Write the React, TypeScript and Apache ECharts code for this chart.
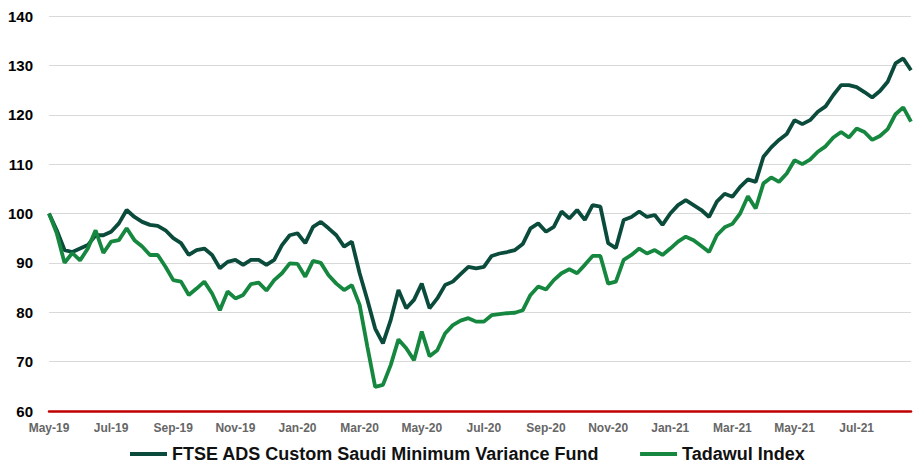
import React, { useEffect, useRef } from "react";
import * as echarts from "echarts";

// Quarter-month steps starting May 2019 (index / 4 = months since May-19)
const fundValues = [
  100, 96.6, 92.6, 92.2, 92.9, 93.6, 95.6, 95.6, 96.3, 98.0,
  100.7, 99.3, 98.3, 97.7, 97.5, 96.6, 95.0, 94.0, 91.6, 92.6,
  92.9, 91.6, 88.9, 90.2, 90.6, 89.6, 90.6, 90.6, 89.6, 90.6,
  93.6, 95.6, 96.0, 94.0, 97.3, 98.3, 97.0, 95.6, 93.3, 94.3,
  87.9, 82.5, 76.7, 73.7, 78.4, 84.5, 80.8, 82.5, 85.8, 80.8,
  82.8, 85.5, 86.2, 87.7, 89.2, 88.9, 89.2, 91.4, 91.9, 92.2,
  92.6, 93.8, 97.0, 98.0, 96.3, 97.3, 100.4, 99.0, 100.7, 98.7,
  101.7, 101.4, 94.0, 93.0, 98.7, 99.3, 100.4, 99.3, 99.7, 97.7,
  100, 101.7, 102.7, 101.7, 100.7, 99.3, 102.4, 104.0, 103.4, 105.4,
  106.9, 106.4, 111.5, 113.4, 114.9, 116.1, 118.9, 118.1, 118.9, 120.6,
  121.7, 124.0, 126.0, 126.0, 125.6, 124.6, 123.5, 124.8, 126.7, 130.4,
  131.4, 129.0,
];

const tadawulValues = [
  100, 96.0, 90.0, 92.0, 90.5, 92.9, 96.6, 92.0, 94.3, 94.6,
  97.0, 94.6, 93.3, 91.6, 91.6, 89.2, 86.5, 86.2, 83.5, 84.8,
  86.2, 83.8, 80.4, 84.2, 82.8, 83.5, 85.7, 86.0, 84.4, 86.5,
  87.9, 89.9, 89.8, 87.2, 90.4, 90.0, 87.5, 85.8, 84.5, 85.5,
  81.5, 73.0, 64.9, 65.3, 69.3, 74.5, 72.7, 70.3, 76.1, 71.1,
  72.3, 75.7, 77.4, 78.3, 78.8, 78.1, 78.1, 79.4, 79.6, 79.8,
  79.9, 80.4, 83.5, 85.2, 84.6, 86.5, 87.9, 88.7, 87.9, 89.6,
  91.4, 91.4, 85.8, 86.2, 90.6, 91.6, 92.9, 91.9, 92.6, 91.6,
  92.9, 94.3, 95.3, 94.6, 93.4, 92.2, 95.6, 97.2, 97.9, 100,
  103.5, 101.0, 106.1, 107.3, 106.4, 108.1, 110.8, 110.0, 110.9, 112.5,
  113.6, 115.4, 116.5, 115.4, 117.2, 116.5, 114.9, 115.7, 117.1, 120.1,
  121.5, 118.6,
];

const xTickLabels = [
  "May-19", "Jul-19", "Sep-19", "Nov-19", "Jan-20", "Mar-20", "May-20",
  "Jul-20", "Sep-20", "Nov-20", "Jan-21", "Mar-21", "May-21", "Jul-21",
];

const seriesNames = ["FTSE ADS Custom Saudi Minimum Variance Fund", "Tadawul Index"];

const STEPS_PER_MONTH = 4;

export default function App() {
  const ref = useRef<HTMLDivElement>(null);

  useEffect(() => {
    if (!ref.current) return;
    const chart = echarts.init(ref.current, null, { renderer: "svg" });
    const toPoints = (arr: number[]) => arr.map((v, i) => [i / STEPS_PER_MONTH, v]);
    chart.setOption({
      animation: false,
      backgroundColor: "#ffffff",
      grid: { left: 49, right: 0, top: 16, bottom: 56, containLabel: false },
      legend: {
        data: seriesNames,
        left: 125,
        top: 440,
        icon: "rect",
        itemWidth: 37,
        itemHeight: 4,
        itemGap: 41,
        textStyle: {
          fontFamily: "Liberation Sans, Arial, sans-serif",
          fontWeight: "bold",
          fontSize: 18,
          color: "#111111",
        },
      },
      xAxis: {
        type: "value",
        min: 0,
        max: 27.75,
        interval: 2,
        axisLine: { show: true, lineStyle: { color: "#C00000", width: 2.5 } },
        axisTick: { show: false },
        splitLine: { show: false },
        axisLabel: {
          margin: 11,
          fontFamily: "Liberation Sans, Arial, sans-serif",
          fontWeight: "bold",
          fontSize: 12,
          color: "#666666",
          formatter: (v: number) => {
            const idx = v / 2;
            return Number.isInteger(idx) && xTickLabels[idx] ? xTickLabels[idx] : "";
          },
        },
      },
      yAxis: {
        type: "value",
        min: 60,
        max: 140,
        interval: 10,
        axisLine: { show: false },
        axisTick: { show: false },
        splitLine: { show: true, lineStyle: { color: "#d9d9d9", width: 1.2 } },
        axisLabel: {
          margin: 16,
          fontFamily: "Liberation Sans, Arial, sans-serif",
          fontWeight: "bold",
          fontSize: 15,
          color: "#000000",
        },
      },
      series: [
        {
          name: seriesNames[0],
          type: "line",
          data: toPoints(fundValues),
          showSymbol: false,
          symbol: "none",
          color: "#0B4B3B",
          lineStyle: { width: 3.8, color: "#0B4B3B" },
          z: 2,
        },
        {
          name: seriesNames[1],
          type: "line",
          data: toPoints(tadawulValues),
          showSymbol: false,
          symbol: "none",
          color: "#15873F",
          lineStyle: { width: 3.8, color: "#15873F" },
          z: 3,
        },
      ],
    });
    return () => chart.dispose();
  }, []);

  return (
    <div
      ref={ref}
      style={{ position: "fixed", left: 0, top: 0, width: 914, height: 467, background: "#fff" }}
    />
  );
}
